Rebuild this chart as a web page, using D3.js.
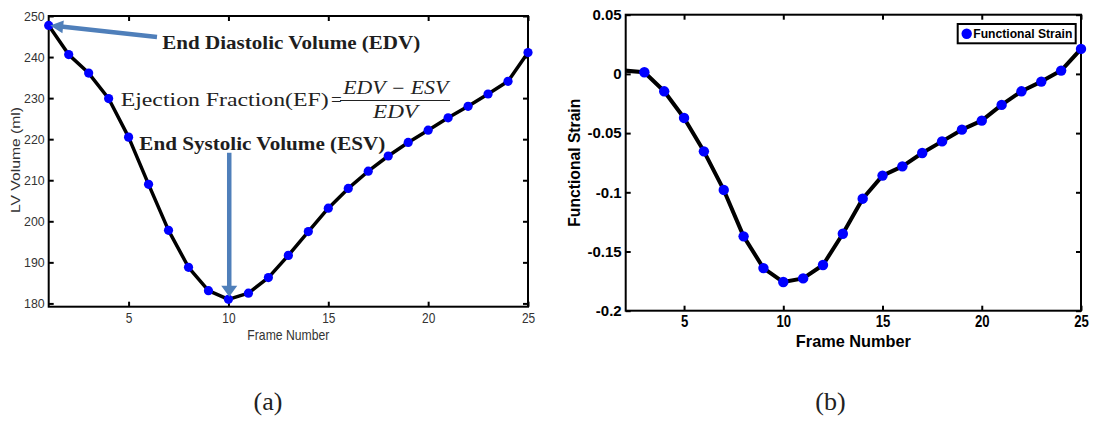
<!DOCTYPE html>
<html>
<head>
<meta charset="utf-8">
<script src="https://cdn.jsdelivr.net/npm/d3@7"></script>
<style>
  body { margin: 0; background: #fff; }
  svg { display: block; }
</style>
</head>
<body>
<div id="chart"></div>
<script>
// ---- data ----
const lvFrames = [1, 2, 3, 4, 5, 6, 7, 8, 9, 10, 11, 12, 13, 14, 15, 16, 17, 18, 19, 20, 21, 22, 23, 24, 25];
const lvVolume = [247.7, 240.6, 236.1, 229.9, 220.5, 209.0, 197.8, 188.8, 183.1, 181.0, 182.5, 186.3, 191.7,
                  197.5, 203.2, 208.0, 212.2, 215.9, 219.2, 222.2, 225.2, 228.0, 231.0, 234.1, 241.1];
const lvXTicks = [5, 10, 15, 20, 25];
const lvYTicks = [180, 190, 200, 210, 220, 230, 240, 250];

const strainFrames = [2, 3, 4, 5, 6, 7, 8, 9, 10, 11, 12, 13, 14, 15, 16, 17, 18, 19, 20, 21, 22, 23, 24, 25];
const strainValues = [0.0028, 0.0014, -0.0147, -0.0372, -0.0654, -0.098, -0.1372, -0.164, -0.1758, -0.1727,
                      -0.1614, -0.135, -0.1054, -0.0859, -0.0781, -0.0668, -0.057, -0.0471, -0.0395, -0.0262,
                      -0.0147, -0.0065, 0.0028, 0.0211];
const strainXTicks = [5, 10, 15, 20, 25];
const strainYTicks = [-0.2, -0.15, -0.1, -0.05, 0, 0.05];

const panelCaptions = ["(a)", "(b)"];

// ---- layout ----
const WIDTH = 1097, HEIGHT = 421;
const LEFT_BOX = { x0: 48.7, x1: 528, y0: 16, y1: 306.7 };
const RIGHT_BOX = { x0: 625.7, x1: 1081, y0: 14.7, y1: 310.7 };
const SANS = "'Liberation Sans', Arial, sans-serif";
const SERIF = "'Liberation Serif', 'Times New Roman', serif";
const ARROW_COLOR = "#4f7fba";
const MARKER_COLOR = "#0000ff";

const svg = d3.select("#chart").append("svg")
  .attr("width", WIDTH)
  .attr("height", HEIGHT);

svg.append("rect").attr("width", WIDTH).attr("height", HEIGHT).attr("fill", "#fff");

// squash text horizontally (the source figure is stretched vertically)
function squeeze(sel, k) {
  sel.each(function() {
    const w = this.getComputedTextLength();
    this.setAttribute("textLength", w * k);
    this.setAttribute("lengthAdjust", "spacingAndGlyphs");
  });
}

function fitText(sel, len) {
  sel.attr("textLength", len).attr("lengthAdjust", "spacingAndGlyphs");
}

// box with inward ticks on all four sides
function drawFrame(x, y, xTicks, yTicks, style) {
  const g = svg.append("g");
  const [bx0, bx1] = x.range();
  const [by1, by0] = y.range();
  const fmt = d => String(d);

  const bottom = g.append("g")
    .attr("transform", `translate(0,${by1})`)
    .call(d3.axisBottom(x).tickValues(xTicks).tickSize(-5).tickSizeOuter(0)
      .tickPadding(style.xPad).tickFormat(fmt));
  const left = g.append("g")
    .attr("transform", `translate(${bx0},0)`)
    .call(d3.axisLeft(y).tickValues(yTicks).tickSize(-5).tickSizeOuter(0)
      .tickPadding(style.yPad).tickFormat(fmt));
  const top = g.append("g")
    .attr("transform", `translate(0,${by0})`)
    .call(d3.axisTop(x).tickValues(xTicks).tickSize(-5).tickSizeOuter(0).tickFormat(() => ""));
  const right = g.append("g")
    .attr("transform", `translate(${bx1},0)`)
    .call(d3.axisRight(y).tickValues(yTicks).tickSize(-5).tickSizeOuter(0).tickFormat(() => ""));

  [bottom, left, top, right].forEach(a => {
    a.select(".domain").remove();
    a.selectAll(".tick line").attr("stroke", "#000").attr("stroke-width", 2);
    a.attr("font-family", SANS);
  });

  bottom.selectAll("text")
    .attr("fill", style.color)
    .attr("font-size", style.xSize)
    .attr("font-weight", style.weight);
  left.selectAll("text")
    .attr("fill", style.color)
    .attr("font-size", style.ySize)
    .attr("font-weight", style.weight);
  squeeze(bottom.selectAll("text"), style.xSqueeze);
  squeeze(left.selectAll("text"), style.ySqueeze);

  g.append("rect")
    .attr("x", bx0).attr("y", by0)
    .attr("width", bx1 - bx0).attr("height", by1 - by0)
    .attr("fill", "none")
    .attr("stroke", "#000")
    .attr("stroke-width", 2);
  return g;
}

// filled arrow polygon from (x1,y1) to tip (x2,y2)
function arrowPath(x1, y1, x2, y2, shaftW, headL, headW) {
  const dx = x2 - x1, dy = y2 - y1;
  const len = Math.hypot(dx, dy);
  const ux = dx / len, uy = dy / len;
  const px = -uy, py = ux;
  const bx = x2 - ux * headL, by = y2 - uy * headL;
  const pts = [
    [x1 + px * shaftW / 2, y1 + py * shaftW / 2],
    [bx + px * shaftW / 2, by + py * shaftW / 2],
    [bx + px * headW / 2, by + py * headW / 2],
    [x2, y2],
    [bx - px * headW / 2, by - py * headW / 2],
    [bx - px * shaftW / 2, by - py * shaftW / 2],
    [x1 - px * shaftW / 2, y1 - py * shaftW / 2]
  ];
  return "M" + pts.map(p => p.join(",")).join("L") + "Z";
}

// ---- panel (a): LV volume ----
function drawVolumePanel() {
  const x = d3.scaleLinear().domain([1, 25]).range([LEFT_BOX.x0, LEFT_BOX.x1]);
  const y = d3.scaleLinear().domain([179.2, 250]).range([LEFT_BOX.y1, LEFT_BOX.y0]);
  const pts = lvFrames.map((f, i) => ({ f, v: lvVolume[i] }));

  drawFrame(x, y, lvXTicks, lvYTicks, {
    color: "#333", weight: "normal", xSize: 14, ySize: 13,
    xPad: 6.6, yPad: 4, xSqueeze: 0.85, ySqueeze: 0.95
  });

  svg.append("path")
    .datum(pts)
    .attr("d", d3.line().x(d => x(d.f)).y(d => y(d.v)))
    .attr("fill", "none")
    .attr("stroke", "#000")
    .attr("stroke-width", 3.5)
    .attr("stroke-linejoin", "round");

  svg.append("g").selectAll("circle")
    .data(pts)
    .join("circle")
    .attr("cx", d => x(d.f))
    .attr("cy", d => y(d.v))
    .attr("r", 4.6)
    .attr("fill", MARKER_COLOR);

  // axis titles
  svg.append("text")
    .attr("x", (LEFT_BOX.x0 + LEFT_BOX.x1) / 2)
    .attr("y", 340)
    .attr("text-anchor", "middle")
    .attr("font-family", SANS)
    .attr("font-size", 15)
    .attr("fill", "#333")
    .text("Frame Number")
    .call(fitText, 82);

  svg.append("text")
    .attr("transform", `translate(20,160) rotate(-90)`)
    .attr("text-anchor", "middle")
    .attr("font-family", SANS)
    .attr("font-size", 13)
    .attr("fill", "#333")
    .text("LV Volume (ml)")
    .call(fitText, 106);

  // annotations
  const edv = pts[0];
  const esv = pts[d3.minIndex(pts, d => d.v)];

  svg.append("path")
    .attr("d", arrowPath(157, 37, x(edv.f) + 1.5, y(edv.v), 4.5, 13, 13))
    .attr("fill", ARROW_COLOR);
  svg.append("path")
    .attr("d", arrowPath(x(esv.f) + 0.8, 152.7, x(esv.f) + 0.8, y(esv.v) - 2.5, 4.5, 11, 16))
    .attr("fill", ARROW_COLOR);

  svg.append("text")
    .attr("x", 162.3).attr("y", 48.7)
    .attr("font-family", SERIF)
    .attr("font-size", 19)
    .attr("font-weight", "bold")
    .attr("fill", "#1e1e1e")
    .text("End Diastolic Volume (EDV)")
    .call(fitText, 258);

  svg.append("text")
    .attr("x", 139.3).attr("y", 150)
    .attr("font-family", SERIF)
    .attr("font-size", 19)
    .attr("font-weight", "bold")
    .attr("fill", "#1e1e1e")
    .text("End Systolic Volume (ESV)")
    .call(fitText, 246);

  // ejection fraction formula
  const eq = svg.append("g")
    .attr("font-family", SERIF)
    .attr("fill", "#222");
  eq.append("text")
    .attr("x", 120.7).attr("y", 105.5)
    .attr("font-size", 19)
    .text("Ejection Fraction(EF)")
    .call(fitText, 208);
  eq.append("text")
    .attr("x", 331).attr("y", 105.5)
    .attr("font-size", 19)
    .text("=");
  eq.append("text")
    .attr("x", 343.3).attr("y", 93.5)
    .attr("font-size", 18)
    .attr("font-style", "italic")
    .text("EDV \u2212 ESV")
    .call(fitText, 105);
  eq.append("line")
    .attr("x1", 340).attr("x2", 450)
    .attr("y1", 100.5).attr("y2", 100.5)
    .attr("stroke", "#222")
    .attr("stroke-width", 1.2);
  eq.append("text")
    .attr("x", 373).attr("y", 118)
    .attr("font-size", 18)
    .attr("font-style", "italic")
    .text("EDV")
    .call(fitText, 45);
}

// ---- panel (b): functional strain ----
function drawStrainPanel() {
  const x = d3.scaleLinear().domain([2.06, 25]).range([RIGHT_BOX.x0, RIGHT_BOX.x1]);
  const y = d3.scaleLinear().domain([-0.2, 0.05]).range([RIGHT_BOX.y1, RIGHT_BOX.y0]);
  const pts = strainFrames.map((f, i) => ({ f, v: strainValues[i] }));
  const [d0, d1] = x.domain();

  drawFrame(x, y, strainXTicks, strainYTicks, {
    color: "#000", weight: "bold", xSize: 16, ySize: 15,
    xPad: 5, yPad: 4, xSqueeze: 0.82, ySqueeze: 1
  });

  svg.append("clipPath")
    .attr("id", "strain-clip")
    .append("rect")
    .attr("x", RIGHT_BOX.x0).attr("y", RIGHT_BOX.y0)
    .attr("width", RIGHT_BOX.x1 - RIGHT_BOX.x0)
    .attr("height", RIGHT_BOX.y1 - RIGHT_BOX.y0);

  svg.append("path")
    .datum(pts)
    .attr("clip-path", "url(#strain-clip)")
    .attr("d", d3.line().x(d => x(d.f)).y(d => y(d.v)))
    .attr("fill", "none")
    .attr("stroke", "#000")
    .attr("stroke-width", 4)
    .attr("stroke-linejoin", "round");

  svg.append("g").selectAll("circle")
    .data(pts.filter(d => d.f >= d0 && d.f <= d1))
    .join("circle")
    .attr("cx", d => x(d.f))
    .attr("cy", d => y(d.v))
    .attr("r", 5.2)
    .attr("fill", MARKER_COLOR);

  svg.append("text")
    .attr("x", (RIGHT_BOX.x0 + RIGHT_BOX.x1) / 2)
    .attr("y", 347)
    .attr("text-anchor", "middle")
    .attr("font-family", SANS)
    .attr("font-size", 17)
    .attr("font-weight", "bold")
    .text("Frame Number")
    .call(fitText, 115);

  svg.append("text")
    .attr("transform", `translate(580,${(RIGHT_BOX.y0 + RIGHT_BOX.y1) / 2}) rotate(-90)`)
    .attr("text-anchor", "middle")
    .attr("font-family", SANS)
    .attr("font-size", 16)
    .attr("font-weight", "bold")
    .text("Functional Strain")
    .call(fitText, 128);

  // legend
  const lg = svg.append("g")
    .attr("transform", `translate(${RIGHT_BOX.x1 - 123.3},${RIGHT_BOX.y0 + 9.3})`);
  lg.append("rect")
    .attr("width", 118).attr("height", 19.3)
    .attr("fill", "#fff")
    .attr("stroke", "#000")
    .attr("stroke-width", 2);
  lg.append("circle")
    .attr("cx", 9).attr("cy", 9.7)
    .attr("r", 5.2)
    .attr("fill", MARKER_COLOR);
  lg.append("text")
    .attr("x", 15.6).attr("y", 14.3)
    .attr("font-family", SANS)
    .attr("font-size", 12)
    .attr("font-weight", "bold")
    .text("Functional Strain")
    .call(fitText, 99);
}

// ---- captions ----
function drawCaptions() {
  svg.selectAll(".caption")
    .data(panelCaptions)
    .join("text")
    .attr("class", "caption")
    .attr("x", (d, i) => i === 0 ? 268 : 830.5)
    .attr("y", 410)
    .attr("text-anchor", "middle")
    .attr("font-family", SERIF)
    .attr("font-size", 26)
    .attr("fill", "#222")
    .text(d => d);
}

drawVolumePanel();
drawStrainPanel();
drawCaptions();
</script>
</body>
</html>
